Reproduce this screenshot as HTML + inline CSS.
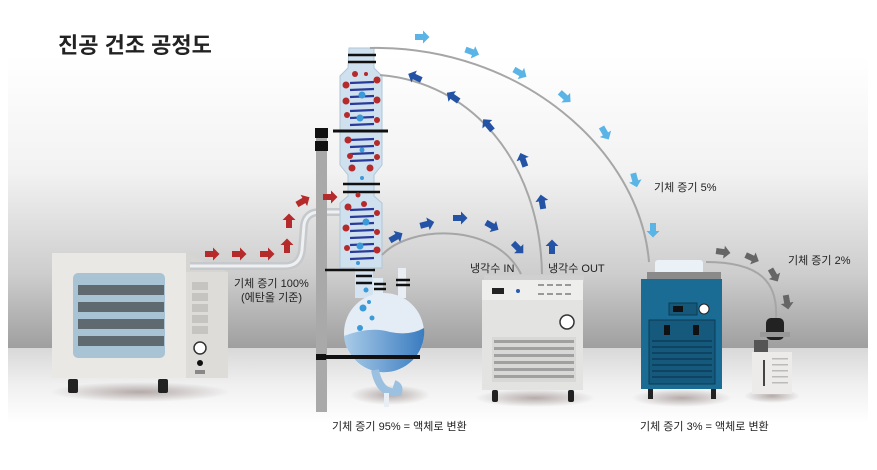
<!DOCTYPE html>
<html><head><meta charset="utf-8"><style>
html,body{margin:0;padding:0;background:#fff;}
svg{display:block;}
text{font-family:"Liberation Sans","Noto Sans CJK KR",sans-serif;fill:#222;}
</style></head><body>
<svg width="877" height="470" viewBox="0 0 877 470" xmlns="http://www.w3.org/2000/svg">
<defs>
<linearGradient id="wall" x1="0" y1="0" x2="0" y2="1">
<stop offset="0" stop-color="#ffffff"/><stop offset="0.4" stop-color="#f2f2f2"/><stop offset="0.75" stop-color="#cdcdcd"/><stop offset="1" stop-color="#9f9f9f"/>
</linearGradient>
<linearGradient id="floor" x1="0" y1="0" x2="0" y2="1">
<stop offset="0" stop-color="#d8d8d8"/><stop offset="0.5" stop-color="#f0f0f0"/><stop offset="1" stop-color="#ffffff"/>
</linearGradient>
<linearGradient id="liq" x1="0" y1="0" x2="1" y2="0">
<stop offset="0" stop-color="#a9cbe8"/><stop offset="1" stop-color="#3a7cc0"/>
</linearGradient>
<radialGradient id="shadow"><stop offset="0" stop-color="#8a7a78" stop-opacity=".6"/><stop offset="1" stop-color="#8a7a78" stop-opacity="0"/></radialGradient>
<path id="ar" d="M-7,-3 L1,-3 L1,-6.5 L7.5,0 L1,6.5 L1,3 L-7,3 Z"/>
</defs>
<rect x="8" y="55" width="860" height="293" fill="url(#wall)"/>
<rect x="8" y="348" width="860" height="75" fill="url(#floor)"/>

<text x="58" y="53" font-size="22" font-weight="bold" fill="#111">진공 건조 공정도</text>

<!-- shadows -->
<ellipse cx="140" cy="392" rx="90" ry="10" fill="url(#shadow)"/>
<ellipse cx="390" cy="395" rx="40" ry="10" fill="url(#shadow)"/>
<ellipse cx="535" cy="398" rx="60" ry="9" fill="url(#shadow)"/>
<ellipse cx="682" cy="398" rx="50" ry="9" fill="url(#shadow)"/>
<ellipse cx="772" cy="396" rx="28" ry="7" fill="url(#shadow)"/>

<!-- oven -->
<rect x="52" y="253" width="134" height="125" fill="#e9e8e5"/>
<polygon points="186,253 228,272 228,378 186,378" fill="#d6d5d2"/>
<rect x="186" y="272" width="42" height="106" fill="#dddcd9"/>
<rect x="73" y="273" width="92" height="85" rx="5" fill="#a8c4d4"/>
<rect x="78" y="285" width="86" height="10" fill="#5e6a70"/>
<rect x="78" y="302" width="86" height="10" fill="#5e6a70"/>
<rect x="78" y="319" width="86" height="10" fill="#5e6a70"/>
<rect x="78" y="336" width="86" height="10" fill="#5e6a70"/>
<g fill="#c5c4c1"><rect x="192" y="282" width="16" height="8"/><rect x="192" y="293" width="16" height="8"/><rect x="192" y="304" width="16" height="8"/><rect x="192" y="315" width="16" height="8"/><rect x="192" y="326" width="16" height="8"/></g>
<circle cx="200" cy="348" r="6" fill="#fff" stroke="#333" stroke-width="1.5"/>
<circle cx="200" cy="363" r="3" fill="#111"/>
<rect x="195" y="370" width="10" height="4" fill="#888"/>
<rect x="68" y="379" width="10" height="14" rx="2" fill="#222"/>
<rect x="158" y="379" width="10" height="14" rx="2" fill="#222"/>

<!-- pipe oven->column -->
<path d="M190,266 L285,266 Q300,266 302,250 L304,225 Q306,212 320,212 L345,212" fill="none" stroke="#c6c9cc" stroke-width="8"/>
<path d="M190,266 L285,266 Q300,266 302,250 L304,225 Q306,212 320,212 L345,212" fill="none" stroke="#eef0f2" stroke-width="3"/>

<!-- pole -->
<rect x="316" y="130" width="11" height="282" fill="#a9a9a9"/>
<rect x="315" y="128" width="13" height="10" fill="#111"/>
<rect x="315" y="141" width="13" height="10" fill="#111"/>

<!-- column -->
<path d="M349,48 L374,48 L374,68 L382,76 L382,165 L374,175 L374,196 L382,203 L382,268 L340,268 L340,203 L348,196 L348,175 L340,165 L340,76 L348,68 Z" fill="#cfe0ee" stroke="#b0c6d8" stroke-width="1"/>
<g stroke="#111" stroke-width="2.5"><line x1="348" y1="55" x2="376" y2="55"/><line x1="348" y1="62" x2="376" y2="62"/>
<line x1="333" y1="131" x2="388" y2="131" stroke-width="3"/>
<line x1="343" y1="184" x2="380" y2="184"/><line x1="343" y1="192" x2="380" y2="192"/></g>
<g stroke="#2a3a9a" stroke-width="2.2">
<line x1="350" y1="83" x2="374" y2="82"/><line x1="350" y1="90" x2="374" y2="89"/><line x1="350" y1="97" x2="374" y2="96"/><line x1="350" y1="104" x2="374" y2="103"/><line x1="350" y1="111" x2="374" y2="110"/><line x1="350" y1="118" x2="374" y2="117"/><line x1="350" y1="125" x2="374" y2="124"/>
<line x1="350" y1="140" x2="374" y2="139"/><line x1="350" y1="147" x2="374" y2="146"/><line x1="350" y1="154" x2="374" y2="153"/><line x1="350" y1="161" x2="374" y2="160"/>
<line x1="350" y1="210" x2="374" y2="209"/><line x1="350" y1="217" x2="374" y2="216"/><line x1="350" y1="224" x2="374" y2="223"/><line x1="350" y1="231" x2="374" y2="230"/><line x1="350" y1="238" x2="374" y2="237"/><line x1="350" y1="245" x2="374" y2="244"/><line x1="350" y1="252" x2="374" y2="251"/><line x1="350" y1="259" x2="374" y2="258"/>
</g>
<g fill="#b52a2a">
<circle cx="355" cy="74" r="3"/><circle cx="366" cy="74" r="2"/><circle cx="346" cy="85" r="3.5"/><circle cx="377" cy="80" r="3.5"/><circle cx="346" cy="101" r="3.5"/><circle cx="377" cy="100" r="3.5"/><circle cx="347" cy="115" r="3"/><circle cx="377" cy="120" r="3"/>
<circle cx="348" cy="140" r="3.5"/><circle cx="377" cy="143" r="3"/><circle cx="350" cy="156" r="3"/><circle cx="377" cy="157" r="3"/><circle cx="352" cy="168" r="3.5"/><circle cx="370" cy="168" r="3.5"/>
<circle cx="358" cy="195" r="2.5"/><circle cx="348" cy="207" r="3.5"/><circle cx="364" cy="204" r="3"/><circle cx="377" cy="213" r="3"/><circle cx="346" cy="228" r="3.5"/><circle cx="377" cy="232" r="3"/><circle cx="347" cy="248" r="3"/><circle cx="377" cy="250" r="3.5"/>
</g>
<g fill="#3c9ad8"><circle cx="362" cy="95" r="3.5"/><circle cx="360" cy="118" r="3.5"/><circle cx="362" cy="150" r="2.5"/><circle cx="362" cy="178" r="2"/><circle cx="366" cy="222" r="3.5"/><circle cx="360" cy="246" r="3.5"/><circle cx="358" cy="263" r="2"/></g>

<!-- flask -->
<rect x="355" y="268" width="18" height="30" fill="#d4e3ef"/>
<rect x="373" y="278" width="10" height="22" fill="#e2ecf4"/>
<rect x="398" y="268" width="8" height="30" fill="#e8eef4"/>
<g stroke="#111" stroke-width="2.5" fill="none"><line x1="325" y1="270" x2="375" y2="270"/><line x1="356" y1="276" x2="372" y2="276"/><line x1="356" y1="283" x2="372" y2="283"/><line x1="374" y1="284" x2="386" y2="284"/><line x1="374" y1="289" x2="386" y2="289"/><line x1="396" y1="280" x2="410" y2="280"/><line x1="396" y1="285" x2="410" y2="285"/></g>
<circle cx="384" cy="333" r="40" fill="#e4edf5"/>
<path d="M344,336 Q370,326 390,332 Q410,336 424,328 A40,40 0 0 1 344,336 Z" fill="url(#liq)"/>
<path d="M375,370 Q380,395 398,392 Q400,386 394,384" fill="none" stroke="#9cc0e0" stroke-width="8"/>
<rect x="384" y="393" width="5" height="14" fill="#e8eef4"/>
<g fill="#3c9ad8"><circle cx="366" cy="290" r="2.5"/><circle cx="363" cy="308" r="3.5"/><circle cx="372" cy="318" r="2.5"/><circle cx="360" cy="328" r="3"/><circle cx="369" cy="302" r="2"/></g>
<rect x="316" y="354" width="10" height="6" fill="#111"/>
<line x1="326" y1="357" x2="420" y2="357" stroke="#111" stroke-width="4"/>

<!-- tubes -->
<g fill="none" stroke="#a6a6a6" stroke-width="2">
<path d="M370,48 C520,45 640,150 649,262"/>
<path d="M380,75 C470,82 540,160 542,274"/>
<path d="M382,255 C410,225 495,222 521,274"/>
<path d="M706,262 C760,262 778,282 776,318"/>
</g>

<!-- chiller -->
<rect x="484" y="275" width="100" height="8" rx="2" fill="#d0d0d0"/>
<rect x="482" y="280" width="101" height="110" fill="#e3e3e1"/>
<rect x="482" y="280" width="101" height="20" fill="#eeeeec"/>
<rect x="492" y="288" width="12" height="6" fill="#222"/><circle cx="518" cy="291" r="2" fill="#2a5bb0"/>
<g fill="#999"><rect x="538" y="284" width="6" height="2"/><rect x="547" y="284" width="6" height="2"/><rect x="556" y="284" width="6" height="2"/><rect x="565" y="284" width="6" height="2"/><rect x="538" y="293" width="6" height="2"/><rect x="547" y="293" width="6" height="2"/><rect x="556" y="293" width="6" height="2"/><rect x="565" y="293" width="6" height="2"/></g>
<circle cx="567" cy="322" r="7" fill="#fff" stroke="#333" stroke-width="1.5"/>
<rect x="492" y="337" width="84" height="45" fill="#d8d8d6"/>
<g fill="#a0a0a0"><rect x="494" y="340" width="80" height="3"/><rect x="494" y="347" width="80" height="3"/><rect x="494" y="354" width="80" height="3"/><rect x="494" y="361" width="80" height="3"/><rect x="494" y="368" width="80" height="3"/><rect x="494" y="375" width="80" height="3"/></g>
<rect x="492" y="390" width="6" height="12" rx="2" fill="#222"/><rect x="568" y="390" width="6" height="12" rx="2" fill="#222"/>

<!-- blue unit -->
<rect x="655" y="260" width="48" height="16" rx="3" fill="#eaf2f8"/>
<rect x="647" y="272" width="74" height="9" fill="#8a8a8a"/>
<rect x="641" y="279" width="81" height="110" fill="#1b6c94"/>
<rect x="669" y="303" width="28" height="12" fill="#15587a" stroke="#0d3b52"/>
<rect x="673" y="306" width="10" height="6" fill="#111"/>
<circle cx="704" cy="309" r="5" fill="#fff" stroke="#222"/>
<rect x="649" y="320" width="66" height="64" fill="#155a7d" stroke="#0d3b52"/>
<g fill="#0e4461"><rect x="652" y="340" width="60" height="2"/><rect x="652" y="346" width="60" height="2"/><rect x="652" y="352" width="60" height="2"/><rect x="652" y="358" width="60" height="2"/><rect x="652" y="364" width="60" height="2"/><rect x="652" y="370" width="60" height="2"/><rect x="652" y="376" width="60" height="2"/></g>
<rect x="664" y="325" width="6" height="10" fill="#111"/><rect x="693" y="325" width="6" height="10" fill="#111"/>
<rect x="648" y="389" width="5" height="10" fill="#222"/><rect x="711" y="389" width="5" height="10" fill="#222"/>

<!-- pump -->
<rect x="766" y="318" width="18" height="22" rx="5" fill="#222"/>
<rect x="760" y="332" width="30" height="5" fill="#999"/>
<rect x="754" y="340" width="14" height="12" fill="#555"/>
<rect x="752" y="352" width="40" height="42" fill="#ecebe9"/>
<line x1="764" y1="360" x2="764" y2="386" stroke="#444" stroke-width="2"/>
<g fill="#bbb"><rect x="772" y="358" width="16" height="1.5"/><rect x="772" y="364" width="16" height="1.5"/><rect x="772" y="370" width="16" height="1.5"/><rect x="772" y="376" width="16" height="1.5"/><rect x="772" y="382" width="16" height="1.5"/></g>

<!-- arrows red -->
<g fill="#b52a2a">
<use href="#ar" transform="translate(212,254)"/><use href="#ar" transform="translate(239,254)"/><use href="#ar" transform="translate(267,254)"/>
<use href="#ar" transform="translate(287,246) rotate(-90)"/><use href="#ar" transform="translate(289,221) rotate(-90)"/>
<use href="#ar" transform="translate(303,201) rotate(-30)"/><use href="#ar" transform="translate(330,197)"/>
</g>
<!-- dark blue -->
<g fill="#2453a6">
<use href="#ar" transform="translate(396,237) rotate(-30)"/><use href="#ar" transform="translate(427,224) rotate(-15)"/>
<use href="#ar" transform="translate(460,218)"/><use href="#ar" transform="translate(492,226) rotate(30)"/><use href="#ar" transform="translate(518,248) rotate(45)"/>
<use href="#ar" transform="translate(552,247) rotate(-90)"/><use href="#ar" transform="translate(542,202) rotate(-100)"/><use href="#ar" transform="translate(523,160) rotate(-110)"/>
<use href="#ar" transform="translate(488,125) rotate(-130)"/><use href="#ar" transform="translate(453,97) rotate(-145)"/><use href="#ar" transform="translate(415,77) rotate(-155)"/>
</g>
<!-- light blue -->
<g fill="#5bb4e6">
<use href="#ar" transform="translate(422,37)"/><use href="#ar" transform="translate(472,52) rotate(20)"/><use href="#ar" transform="translate(520,73) rotate(30)"/>
<use href="#ar" transform="translate(565,97) rotate(42)"/><use href="#ar" transform="translate(605,133) rotate(60)"/><use href="#ar" transform="translate(635,180) rotate(75)"/><use href="#ar" transform="translate(653,230) rotate(90)"/>
</g>
<!-- gray -->
<g fill="#666">
<use href="#ar" transform="translate(723,252) rotate(8)"/><use href="#ar" transform="translate(752,258) rotate(25)"/><use href="#ar" transform="translate(774,275) rotate(60)"/><use href="#ar" transform="translate(787,302) rotate(80)"/>
</g>

<!-- labels -->
<g font-size="11">
<text x="234" y="287">기체 증기 100%</text>
<text x="241" y="301">(에탄올 기준)</text>
<text x="470" y="272">냉각수 IN</text>
<text x="548" y="272">냉각수 OUT</text>
<text x="654" y="191">기체 증기 5%</text>
<text x="788" y="264">기체 증기 2%</text>
<text x="332" y="430">기체 증기 95% = 액체로 변환</text>
<text x="640" y="430">기체 증기 3% = 액체로 변환</text>
</g>
</svg>
</body></html>
